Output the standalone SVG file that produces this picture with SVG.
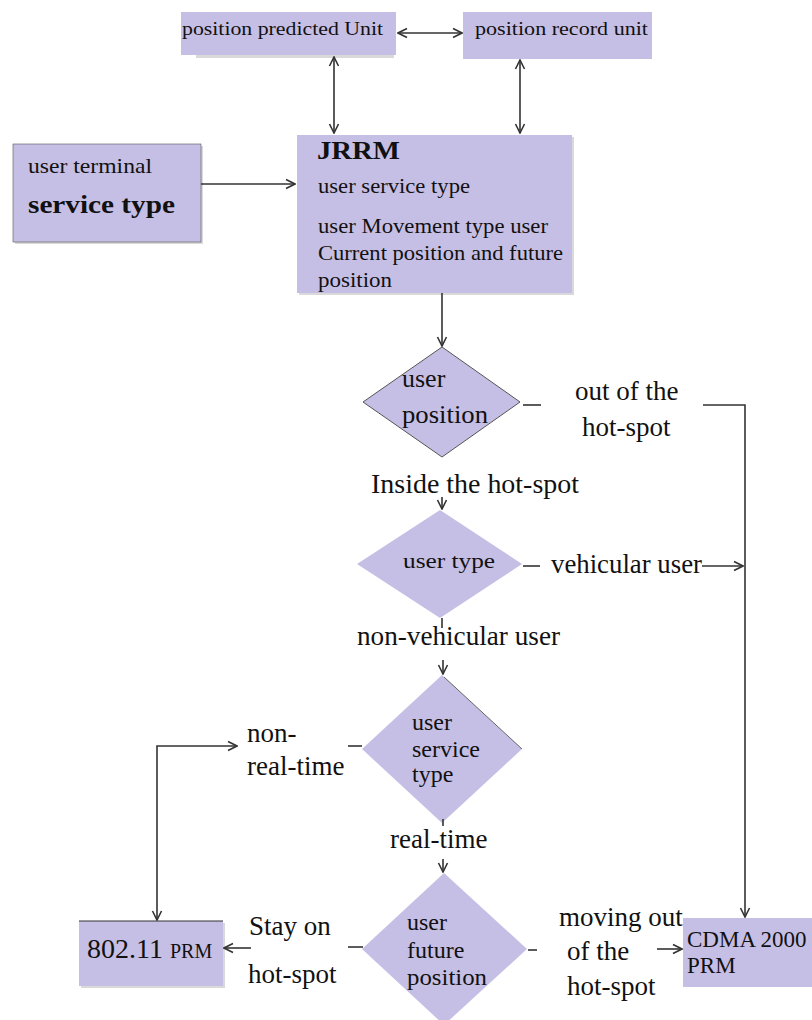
<svg xmlns="http://www.w3.org/2000/svg" width="812" height="1020" viewBox="0 0 812 1020">
<style>
.box{fill:#c6bfe5}
.shadow{fill:#d9d9d9}
.dia{fill:#c6bfe5}
.t{fill:#111}
.b{font-weight:bold}
.ln{stroke:#333;stroke-width:1.6;fill:none}
</style>
<defs>
<marker id="ah" viewBox="0 0 12 12" refX="11" refY="6" markerWidth="12" markerHeight="12" markerUnits="userSpaceOnUse" orient="auto-start-reverse">
<polyline points="2,1.5 11,6 2,10.5" fill="none" stroke="#333" stroke-width="1.6"/>
</marker>
</defs>
<rect width="812" height="1020" fill="#fff"/>
<g font-family="Liberation Serif, Times New Roman, DejaVu Serif, serif">
<g id="node-predicted">
<rect class="shadow" x="196" y="54" width="198" height="4"/>
<rect class="box" x="181" y="12" width="215" height="43"/>
<text class="t" x="182" y="35" font-size="19" textLength="201" lengthAdjust="spacingAndGlyphs">position predicted  Unit</text>
</g>
<g id="node-record">
<rect class="box" x="463" y="12" width="189" height="47"/>
<text class="t" x="475" y="35" font-size="19" textLength="173" lengthAdjust="spacingAndGlyphs">position  record unit</text>
</g>
<g id="node-terminal">
<rect class="shadow" x="15" y="146" width="188" height="98"/>
<rect class="box" x="13" y="144" width="188" height="98" stroke="#555" stroke-width="0.6"/>
<text class="t" x="28" y="173" font-size="21" textLength="124" lengthAdjust="spacingAndGlyphs">user terminal</text>
<text class="t b" x="28" y="213" font-size="26" textLength="147" lengthAdjust="spacingAndGlyphs">service type</text>
</g>
<g id="node-jrrm">
<rect class="shadow" x="299" y="137" width="275" height="158"/>
<rect class="box" x="297" y="135" width="275" height="158"/>
<text class="t b" x="317" y="159" font-size="25" textLength="83" lengthAdjust="spacingAndGlyphs">JRRM</text>
<text class="t" x="318" y="193" font-size="21" textLength="152" lengthAdjust="spacingAndGlyphs">user service type</text>
<text class="t" x="318" y="233" font-size="22" textLength="230" lengthAdjust="spacingAndGlyphs">user Movement type user</text>
<text class="t" x="318" y="260" font-size="22" textLength="245" lengthAdjust="spacingAndGlyphs">Current position and future</text>
<text class="t" x="318" y="287" font-size="22" textLength="74" lengthAdjust="spacingAndGlyphs">position</text>
</g>

<g id="node-position">
<polygon class="dia" points="442,347 520,402 442,457 363,402" stroke="#555" stroke-width="1"/>
<text class="t" x="402" y="387" font-size="26">user</text>
<text class="t" x="402" y="423" font-size="26" textLength="86" lengthAdjust="spacingAndGlyphs">position</text>
</g>
<g id="node-type">
<polygon class="dia" points="440,510 522,564 440,618 357,564"/>
<text class="t" x="403" y="568" font-size="22" textLength="92" lengthAdjust="spacingAndGlyphs">user type</text>
</g>
<g id="node-service">
<polygon class="dia" points="442,675 522,749 442,823 362,749"/>
<line x1="444" y1="677" x2="522" y2="749" stroke="#666" stroke-width="1"/>
<text class="t" x="412" y="730" font-size="24">user</text>
<text class="t" x="412" y="757" font-size="24" textLength="68" lengthAdjust="spacingAndGlyphs">service</text>
<text class="t" x="412" y="782" font-size="24">type</text>
</g>
<g id="node-future">
<polygon class="dia" points="444,873 527,949 444,1025 362,949"/>
<text class="t" x="407" y="930" font-size="24">user</text>
<text class="t" x="407" y="958" font-size="24">future</text>
<text class="t" x="407" y="985" font-size="24" textLength="80" lengthAdjust="spacingAndGlyphs">position</text>
</g>
<g id="node-80211">
<rect class="shadow" x="81" y="923" width="144" height="65"/>
<rect class="box" x="79" y="921" width="144" height="65"/>
<line x1="79" y1="921" x2="223" y2="921" stroke="#333" stroke-width="1.2"/>
<text class="t" x="87" y="958" font-size="28">802.11 <tspan font-size="20">PRM</tspan></text>
</g>
<g id="node-cdma">
<rect class="box" x="683" y="918" width="129" height="69"/>
<text class="t" x="687" y="947" font-size="23">CDMA 2000</text>
<text class="t" x="687" y="973" font-size="23">PRM</text>
</g>

<g id="labels">
<text class="t" x="575" y="400" font-size="27">out of the</text>
<text class="t" x="582" y="436" font-size="27">hot-spot</text>
<text class="t" x="371" y="493" font-size="27" textLength="208" lengthAdjust="spacingAndGlyphs">Inside the hot-spot</text>
<text class="t" x="551" y="573" font-size="27" textLength="151" lengthAdjust="spacingAndGlyphs">vehicular user</text>
<text class="t" x="357" y="645" font-size="27" textLength="203" lengthAdjust="spacingAndGlyphs">non-vehicular user</text>
<text class="t" x="247" y="742" font-size="27">non-</text>
<text class="t" x="247" y="775" font-size="27">real-time</text>
<text class="t" x="390" y="848" font-size="27">real-time</text>
<text class="t" x="249" y="935" font-size="27">Stay on</text>
<text class="t" x="248" y="983" font-size="27">hot-spot</text>
<text class="t" x="559" y="926" font-size="27">moving out</text>
<text class="t" x="567" y="960" font-size="27">of the</text>
<text class="t" x="567" y="995" font-size="27">hot-spot</text>
</g>
</g>
<g id="connectors">
<line class="ln" x1="398" y1="33" x2="462" y2="33" marker-start="url(#ah)" marker-end="url(#ah)"/>
<line class="ln" x1="334" y1="57" x2="334" y2="133" marker-start="url(#ah)" marker-end="url(#ah)"/>
<line class="ln" x1="520" y1="60" x2="520" y2="133" marker-start="url(#ah)" marker-end="url(#ah)"/>
<line class="ln" x1="201" y1="184" x2="295" y2="184" marker-end="url(#ah)"/>
<line class="ln" x1="442" y1="293" x2="442" y2="346" marker-end="url(#ah)"/>
<line class="ln" x1="523" y1="405" x2="541" y2="405"/>
<polyline class="ln" points="703,405 745,405 745,917" marker-end="url(#ah)"/>
<line class="ln" x1="442" y1="497" x2="442" y2="509" marker-end="url(#ah)"/>
<line class="ln" x1="523" y1="566" x2="540" y2="566"/>
<line class="ln" x1="702" y1="566" x2="743" y2="566" marker-end="url(#ah)"/>
<line class="ln" x1="442" y1="618" x2="442" y2="628"/>
<line class="ln" x1="443" y1="660" x2="443" y2="674" marker-end="url(#ah)"/>
<line class="ln" x1="348" y1="746" x2="362" y2="746"/>
<polyline class="ln" points="237,746 157,746 157,920" marker-start="url(#ah)" marker-end="url(#ah)"/>
<line class="ln" x1="443" y1="819" x2="443" y2="826"/>
<line class="ln" x1="443" y1="859" x2="443" y2="872" marker-end="url(#ah)"/>
<line class="ln" x1="348" y1="947" x2="363" y2="947"/>
<line class="ln" x1="251" y1="948" x2="224" y2="948" marker-end="url(#ah)"/>
<line class="ln" x1="528" y1="950" x2="537" y2="950"/>
<line class="ln" x1="657" y1="949" x2="682" y2="949" marker-end="url(#ah)"/>
</g>
</svg>
